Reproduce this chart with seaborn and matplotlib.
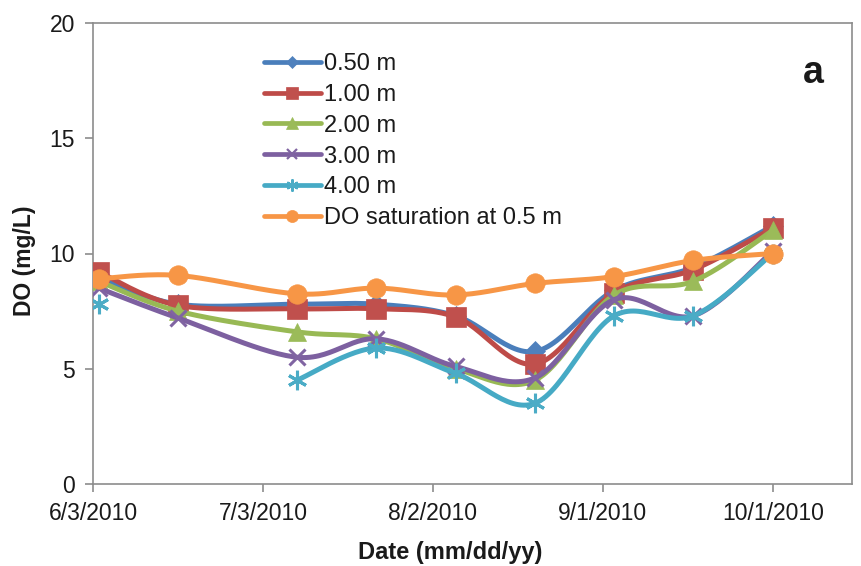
import numpy as np
import pandas as pd
import matplotlib
matplotlib.use("Agg")
import matplotlib.pyplot as plt
import matplotlib.dates as mdates
from matplotlib.lines import Line2D
import seaborn as sns

# Sampling dates and dissolved-oxygen readings (mg/L) by depth
dates = ["2010-06-04", "2010-06-18", "2010-07-09", "2010-07-23", "2010-08-06",
         "2010-08-20", "2010-09-03", "2010-09-17", "2010-10-01"]
do_050 = [9.0, 7.8, 7.8, 7.8, 7.3, 5.75, 8.4, 9.4, 11.2]
do_100 = [9.2, 7.75, 7.6, 7.6, 7.25, 5.2, 8.3, 9.3, 11.1]
do_200 = [8.8, 7.5, 6.6, 6.3, 5.0, 4.5, 8.2, 8.8, 11.0]
do_300 = [8.5, 7.2, 5.5, 6.3, 5.1, 4.6, 8.0, 7.3, 10.1]
do_400 = [7.8, np.nan, 4.5, 5.9, 4.8, 3.5, 7.3, 7.3, 10.0]
do_sat = [8.9, 9.05, 8.25, 8.5, 8.2, 8.7, 9.0, 9.7, 10.0]

series_names = ["0.50 m", "1.00 m", "2.00 m", "3.00 m", "4.00 m", "DO saturation at 0.5 m"]
series_values = [do_050, do_100, do_200, do_300, do_400, do_sat]

y_ticks = [0, 5, 10, 15, 20]
x_tick_dates = ["2010-06-03", "2010-07-03", "2010-08-02", "2010-09-01", "2010-10-01"]
x_limits = ["2010-06-03", "2010-10-15"]

line_colors = ["#4A7EBB", "#BE4B48", "#98B954", "#7D60A0", "#46AAC5", "#F79646"]
marker_colors = ["#4F81BD", "#C0504D", "#9BBB59", "#8064A2", "#4BACC6", "#F79646"]
marker_styles = ["D", "s", "^", "x", (6, 2, 0), "o"]
marker_sizes = [10, 14, 13, 11, 14, 14]

sns.set_theme(style="white")
plt.rcParams["font.family"] = ["Liberation Sans", "DejaVu Sans"]

x_num = mdates.date2num(pd.to_datetime(dates))


def smooth_curve(xs, ys, samples=30):
    """Bezier smoothing through the points (tangent = neighbour difference / 6)."""
    pts = np.column_stack([xs, ys])
    n = len(pts)
    if n < 2:
        return pts[:, 0], pts[:, 1]
    out = [pts[:1]]
    t = np.linspace(0, 1, samples)[1:, None]
    for i in range(n - 1):
        p0 = pts[max(i - 1, 0)]
        p1 = pts[i]
        p2 = pts[i + 1]
        p3 = pts[min(i + 2, n - 1)]
        c1 = p1 + (p2 - p0) / 6.0
        c2 = p2 - (p3 - p1) / 6.0
        seg = ((1 - t) ** 3) * p1 + 3 * ((1 - t) ** 2) * t * c1 + 3 * (1 - t) * t ** 2 * c2 + t ** 3 * p2
        out.append(seg)
    curve = np.vstack(out)
    return curve[:, 0], curve[:, 1]


fig = plt.figure(figsize=(8.62, 5.66), dpi=100)
ax = fig.add_axes([93 / 862, 1 - 484 / 566, (852 - 93) / 862, (484 - 23) / 566])

handles = []
for k, (name, vals) in enumerate(zip(series_names, series_values)):
    vals = np.asarray(vals, dtype=float)
    valid = ~np.isnan(vals)
    # split into runs of consecutive valid values (gaps break the line)
    runs, cur = [], []
    for i in range(len(vals)):
        if valid[i]:
            cur.append(i)
        else:
            if cur:
                runs.append(cur)
            cur = []
    if cur:
        runs.append(cur)
    for run in runs:
        if len(run) > 1:
            cx, cy = smooth_curve(x_num[run], vals[run])
            sns.lineplot(x=cx, y=cy, ax=ax, color=line_colors[k], linewidth=3.6,
                         sort=False, estimator=None, zorder=2 + k, legend=False)
    mk = marker_styles[k]
    unfilled = mk == "x" or isinstance(mk, tuple)
    ax.plot(x_num[valid], vals[valid], ls="none", marker=mk, ms=marker_sizes[k],
            color=marker_colors[k], mec=marker_colors[k],
            mew=2.2 if unfilled else 0.5, zorder=2.5 + k)
    handles.append(Line2D([], [], color=line_colors[k], lw=3.4, marker=mk,
                          ms=marker_sizes[k] * 0.62, mfc=marker_colors[k],
                          mec=marker_colors[k], mew=1.6 if unfilled else 0.5))

ax.set_ylim(0, 20)
ax.set_yticks(y_ticks)
ax.set_xlim(mdates.date2num(pd.to_datetime(x_limits[0])), mdates.date2num(pd.to_datetime(x_limits[1])))
tick_dt = pd.to_datetime(x_tick_dates)
ax.set_xticks(mdates.date2num(tick_dt))
ax.set_xticklabels([f"{d.month}/{d.day}/{d.year}" for d in tick_dt])

for side in ["left", "bottom", "top", "right"]:
    ax.spines[side].set_visible(True)
    ax.spines[side].set_color("#8C8C8C")
    ax.spines[side].set_linewidth(1.2)

ax.tick_params(axis="both", which="major", direction="out", length=6, width=1.2,
               color="#8C8C8C", labelsize=16.5, labelcolor="#1a1a1a", pad=7,
               bottom=True, left=True)
ax.set_xlabel("Date (mm/dd/yy)", fontsize=17, fontweight="bold", color="#1a1a1a")
ax.set_ylabel("DO (mg/L)", fontsize=16.5, fontweight="bold", color="#1a1a1a")
ax.xaxis.set_label_coords((450 - 93) / 759, -(552 - 484) / 461)
ax.yaxis.set_label_coords(-(93 - 24) / 759, (484 - 261) / 461)
ax.xaxis.label.set_va("center")
ax.yaxis.label.set_va("center")

leg = ax.legend(handles, series_names, loc="upper left",
                bbox_to_anchor=(264 / 862, 1 - 53 / 566), bbox_transform=fig.transFigure,
                frameon=False, fontsize=17, handlelength=2.4, handletextpad=0.15,
                labelspacing=0.375, borderpad=0, borderaxespad=0)
for t in leg.get_texts():
    t.set_color("#1a1a1a")

fig.text(813 / 862, 1 - 73 / 566, "a", fontsize=27, fontweight="bold",
         ha="center", va="center", color="#1a1a1a")

fig.savefig("out.png", dpi=100, facecolor="white")
